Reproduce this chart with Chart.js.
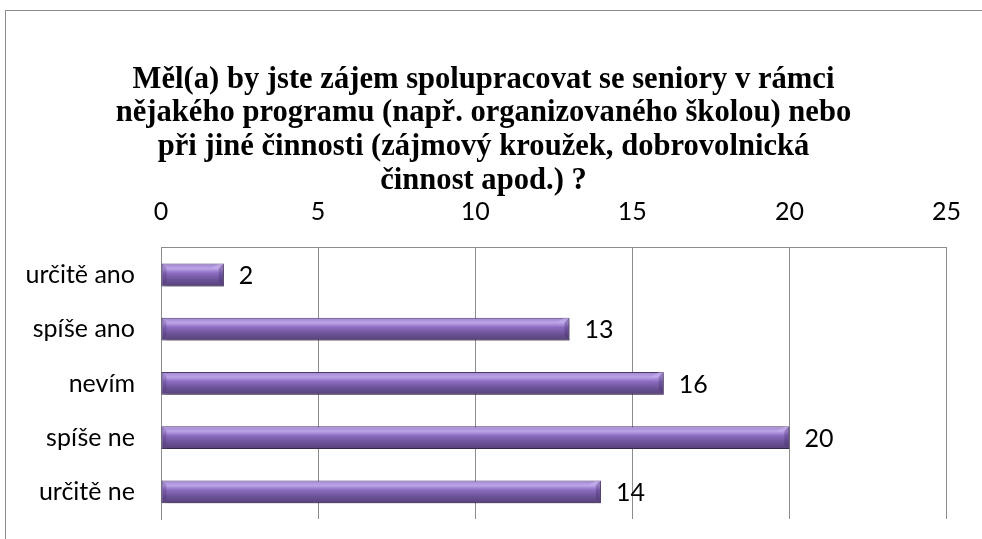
<!DOCTYPE html>
<html>
<head>
<meta charset="utf-8">
<script src="https://cdn.jsdelivr.net/npm/chart.js@4.4.1/dist/chart.umd.min.js"></script>
<style>
  body { margin: 0; background: #fff; }
  #wrap { position: relative; width: 982px; height: 539px; }
  #frame { position: absolute; left: 5px; top: 10px; right: -2px; bottom: -2px; border-left: 1px solid #8c8c8c; border-top: 1px solid #8c8c8c; }
  canvas { position: absolute; left: 0; top: 0; }
</style>
</head>
<body>
<div id="wrap">
  <div id="frame"></div>
  <canvas id="chart" width="982" height="539"></canvas>
</div>
<script>
// Chart data
const categories = ["určitě ano", "spíše ano", "nevím", "spíše ne", "určitě ne"];
const counts = [2, 13, 16, 20, 14];
const xTicks = [0, 5, 10, 15, 20, 25];
const titleLines = [
  "Měl(a) by jste zájem spolupracovat se seniory v rámci",
  "nějakého programu (např. organizovaného školou) nebo",
  "při jiné činnosti (zájmový kroužek, dobrovolnická",
  "činnost apod.) ?"
];

const sansFamily = "Lato, 'Open Sans', sans-serif";
const labelFont = { family: sansFamily, size: 25, lineHeight: 1.2 };
const barPct = 0.42;

// vertical gradient for one bar, built from its own scale position
function barGradient(ctx) {
  const chart = ctx.chart;
  const area = chart.chartArea;
  if (!area) return "#8064a2";
  const y = chart.scales.y.getPixelForValue(ctx.dataIndex);
  const h = (area.height / categories.length) * barPct;
  const g = chart.ctx.createLinearGradient(0, y - h / 2, 0, y + h / 2);
  g.addColorStop(0, "#a085cf");
  g.addColorStop(0.22, "#bca4e8");
  g.addColorStop(0.42, "#8b6bbf");
  g.addColorStop(0.7, "#6c5398");
  g.addColorStop(1, "#554078");
  return g;
}

// shadow under bars, end bevels and value labels
const barLook = {
  id: "barLook",
  beforeDatasetsDraw(chart) {
    const c = chart.ctx;
    c.save();
    c.shadowColor = "rgba(0,0,0,0.35)";
    c.shadowBlur = 4;
    c.shadowOffsetX = 2;
    c.shadowOffsetY = 3;
  },
  afterDatasetsDraw(chart) {
    const c = chart.ctx;
    c.restore();
    c.save();
    chart.getDatasetMeta(0).data.forEach((bar) => {
      const top = bar.y - bar.height / 2;
      const bot = bar.y + bar.height / 2;
      const l = bar.base, r = bar.x, d = 5;
      // right end facet
      c.beginPath();
      c.moveTo(r, top); c.lineTo(r, bot); c.lineTo(r - d, bot - d); c.lineTo(r - d, top + d);
      c.closePath();
      c.fillStyle = "rgba(70,45,110,0.35)";
      c.fill();
      c.beginPath();
      c.moveTo(r, top); c.lineTo(r - d, top + d); c.lineTo(r - d - 8, top + d); c.lineTo(r - d, top);
      c.closePath();
      c.fillStyle = "rgba(205,185,240,0.45)";
      c.fill();
      // left end facet
      c.beginPath();
      c.moveTo(l, top); c.lineTo(l + d, top + d); c.lineTo(l + d, bot - d); c.lineTo(l, bot);
      c.closePath();
      c.fillStyle = "rgba(70,45,110,0.25)";
      c.fill();
    });
    c.font = labelFont.size + "px " + labelFont.family;
    c.fillStyle = "#000";
    c.textBaseline = "middle";
    chart.getDatasetMeta(0).data.forEach((bar, i) => {
      c.fillText(String(counts[i]), bar.x + 15, bar.y + 1);
    });
    c.restore();
  }
};

function draw() {
  new Chart(document.getElementById("chart"), {
    type: "bar",
    data: {
      labels: categories,
      datasets: [{
        data: counts,
        backgroundColor: barGradient,
        borderColor: "#4e3a6c",
        borderWidth: 1,
        borderSkipped: false,
        categoryPercentage: 1,
        barPercentage: barPct
      }]
    },
    options: {
      indexAxis: "y",
      responsive: false,
      animation: false,
      events: [],
      layout: { padding: { top: 63, left: 16, right: 31, bottom: 20 } },
      plugins: {
        legend: { display: false },
        tooltip: { enabled: false },
        title: {
          display: true,
          text: titleLines,
          color: "#000",
          font: { family: "'Liberation Serif', 'Times New Roman', serif", size: 30.6, weight: "bold", lineHeight: 1.098 },
          padding: { top: 0, bottom: 0 }
        }
      },
      scales: {
        x: {
          position: "top",
          min: 0,
          max: 25,
          afterBuildTicks: (s) => { s.ticks = xTicks.map((v) => ({ value: v })); },
          afterFit: (s) => { s.height = 50.5; },
          ticks: { color: "#000", font: labelFont, padding: 21 },
          grid: { color: "#8c8c8c", drawTicks: false },
          border: { display: true, color: "#8c8c8c" }
        },
        y: {
          afterFit: (s) => { s.width = 145; s.paddingTop = 0; s.paddingBottom = 0; },
          ticks: { color: "#000", font: labelFont, padding: 26 },
          grid: { display: false, drawTicks: false },
          border: { display: true, color: "#8c8c8c" }
        }
      }
    },
    plugins: [barLook]
  });
}

// make sure the installed fonts are ready before the canvas draws text
Promise.all([
  document.fonts.load("bold 30px 'Liberation Serif'"),
  document.fonts.load("25px Lato")
]).then(draw, draw);
</script>
</body>
</html>
